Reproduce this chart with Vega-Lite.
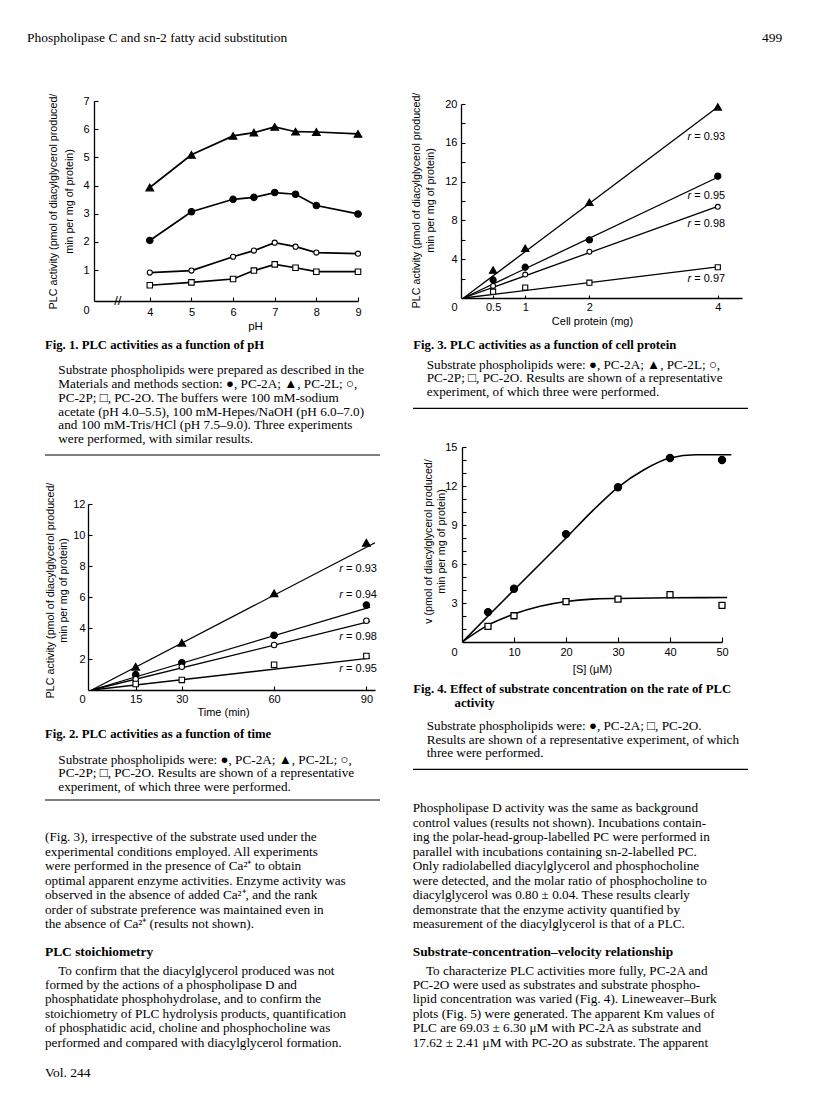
{
  "$schema": "https://vega.github.io/schema/vega-lite/v6.json",
  "width": 816,
  "height": 1096,
  "autosize": {"type": "none"},
  "padding": 0,
  "background": "white",
  "config": {
    "view": {"stroke": null},
    "axis": {"grid": false, "labelFont": "Liberation Sans", "titleFont": "Liberation Sans", "labelColor": "black", "titleColor": "black", "domainColor": "black", "tickColor": "black", "labelFontSize": 11, "titleFontSize": 10.7, "titleFontWeight": "normal", "domainWidth": 1.3, "tickWidth": 1.1, "labelOverlap": false, "labelFlush": false, "labelBound": false}
  },
  "datasets": {
    "pts": [
      {"fig": 1, "s": "PC-2L", "x": 4, "y": 3.93}, {"fig": 1, "s": "PC-2L", "x": 5, "y": 5.09}, {"fig": 1, "s": "PC-2L", "x": 6, "y": 5.76}, {"fig": 1, "s": "PC-2L", "x": 6.5, "y": 5.88}, {"fig": 1, "s": "PC-2L", "x": 7, "y": 6.08}, {"fig": 1, "s": "PC-2L", "x": 7.5, "y": 5.91}, {"fig": 1, "s": "PC-2L", "x": 8, "y": 5.9}, {"fig": 1, "s": "PC-2L", "x": 9, "y": 5.83},
      {"fig": 1, "s": "PC-2A", "x": 4, "y": 2.05}, {"fig": 1, "s": "PC-2A", "x": 5, "y": 3.07}, {"fig": 1, "s": "PC-2A", "x": 6, "y": 3.51}, {"fig": 1, "s": "PC-2A", "x": 6.5, "y": 3.58}, {"fig": 1, "s": "PC-2A", "x": 7, "y": 3.75}, {"fig": 1, "s": "PC-2A", "x": 7.5, "y": 3.69}, {"fig": 1, "s": "PC-2A", "x": 8, "y": 3.29}, {"fig": 1, "s": "PC-2A", "x": 9, "y": 2.99},
      {"fig": 1, "s": "PC-2P", "x": 4, "y": 0.91}, {"fig": 1, "s": "PC-2P", "x": 5, "y": 0.98}, {"fig": 1, "s": "PC-2P", "x": 6, "y": 1.47}, {"fig": 1, "s": "PC-2P", "x": 6.5, "y": 1.69}, {"fig": 1, "s": "PC-2P", "x": 7, "y": 1.97}, {"fig": 1, "s": "PC-2P", "x": 7.5, "y": 1.83}, {"fig": 1, "s": "PC-2P", "x": 8, "y": 1.62}, {"fig": 1, "s": "PC-2P", "x": 9, "y": 1.58},
      {"fig": 1, "s": "PC-2O", "x": 4, "y": 0.46}, {"fig": 1, "s": "PC-2O", "x": 5, "y": 0.56}, {"fig": 1, "s": "PC-2O", "x": 6, "y": 0.68}, {"fig": 1, "s": "PC-2O", "x": 6.5, "y": 0.98}, {"fig": 1, "s": "PC-2O", "x": 7, "y": 1.2}, {"fig": 1, "s": "PC-2O", "x": 7.5, "y": 1.08}, {"fig": 1, "s": "PC-2O", "x": 8, "y": 0.94}, {"fig": 1, "s": "PC-2O", "x": 9, "y": 0.94},
      {"fig": 2, "s": "PC-2L", "x": 15, "y": 1.5}, {"fig": 2, "s": "PC-2L", "x": 30, "y": 3.05}, {"fig": 2, "s": "PC-2L", "x": 60, "y": 6.24}, {"fig": 2, "s": "PC-2L", "x": 90, "y": 9.5},
      {"fig": 2, "s": "PC-2A", "x": 15, "y": 0.99}, {"fig": 2, "s": "PC-2A", "x": 30, "y": 1.76}, {"fig": 2, "s": "PC-2A", "x": 60, "y": 3.53}, {"fig": 2, "s": "PC-2A", "x": 90, "y": 5.48},
      {"fig": 2, "s": "PC-2P", "x": 15, "y": 0.69}, {"fig": 2, "s": "PC-2P", "x": 30, "y": 1.5}, {"fig": 2, "s": "PC-2P", "x": 60, "y": 2.9}, {"fig": 2, "s": "PC-2P", "x": 90, "y": 4.47},
      {"fig": 2, "s": "PC-2O", "x": 15, "y": 0.39}, {"fig": 2, "s": "PC-2O", "x": 30, "y": 0.65}, {"fig": 2, "s": "PC-2O", "x": 60, "y": 1.63}, {"fig": 2, "s": "PC-2O", "x": 90, "y": 2.19},
      {"fig": 3, "s": "PC-2L", "x": 0.5, "y": 2.89}, {"fig": 3, "s": "PC-2L", "x": 1, "y": 5.13}, {"fig": 3, "s": "PC-2L", "x": 2, "y": 9.87}, {"fig": 3, "s": "PC-2L", "x": 4, "y": 19.7},
      {"fig": 3, "s": "PC-2A", "x": 0.5, "y": 1.86}, {"fig": 3, "s": "PC-2A", "x": 1, "y": 3.17}, {"fig": 3, "s": "PC-2A", "x": 2, "y": 5.99}, {"fig": 3, "s": "PC-2A", "x": 4, "y": 12.56},
      {"fig": 3, "s": "PC-2P", "x": 0.5, "y": 1.24}, {"fig": 3, "s": "PC-2P", "x": 1, "y": 2.41}, {"fig": 3, "s": "PC-2P", "x": 2, "y": 4.78}, {"fig": 3, "s": "PC-2P", "x": 4, "y": 9.4},
      {"fig": 3, "s": "PC-2O", "x": 0.5, "y": 0.65}, {"fig": 3, "s": "PC-2O", "x": 1, "y": 1.07}, {"fig": 3, "s": "PC-2O", "x": 2, "y": 1.58}, {"fig": 3, "s": "PC-2O", "x": 4, "y": 3.17},
      {"fig": 4, "s": "PC-2A", "x": 5, "y": 2.3}, {"fig": 4, "s": "PC-2A", "x": 10, "y": 4.1}, {"fig": 4, "s": "PC-2A", "x": 20, "y": 8.3}, {"fig": 4, "s": "PC-2A", "x": 30, "y": 11.9}, {"fig": 4, "s": "PC-2A", "x": 40, "y": 14.15}, {"fig": 4, "s": "PC-2A", "x": 50, "y": 14.0},
      {"fig": 4, "s": "PC-2O", "x": 5, "y": 1.2}, {"fig": 4, "s": "PC-2O", "x": 10, "y": 2.02}, {"fig": 4, "s": "PC-2O", "x": 20, "y": 3.1}, {"fig": 4, "s": "PC-2O", "x": 30, "y": 3.3}, {"fig": 4, "s": "PC-2O", "x": 40, "y": 3.64}, {"fig": 4, "s": "PC-2O", "x": 50, "y": 2.82}
    ],
    "fit": [
      {"fig": 2, "s": "PC-2L", "x": 0.7, "y": 0}, {"fig": 2, "s": "PC-2L", "x": 92.8, "y": 9.5},
      {"fig": 2, "s": "PC-2A", "x": 0.7, "y": 0}, {"fig": 2, "s": "PC-2A", "x": 91.2, "y": 5.35},
      {"fig": 2, "s": "PC-2P", "x": 0.7, "y": 0}, {"fig": 2, "s": "PC-2P", "x": 91.2, "y": 4.42},
      {"fig": 2, "s": "PC-2O", "x": 0.7, "y": 0}, {"fig": 2, "s": "PC-2O", "x": 91.2, "y": 2.05},
      {"fig": 3, "s": "PC-2L", "x": 0.04, "y": 0}, {"fig": 3, "s": "PC-2L", "x": 4, "y": 19.7},
      {"fig": 3, "s": "PC-2A", "x": 0.04, "y": 0}, {"fig": 3, "s": "PC-2A", "x": 4, "y": 12.45},
      {"fig": 3, "s": "PC-2P", "x": 0.04, "y": 0}, {"fig": 3, "s": "PC-2P", "x": 4, "y": 9.45},
      {"fig": 3, "s": "PC-2O", "x": 0.04, "y": 0}, {"fig": 3, "s": "PC-2O", "x": 4, "y": 3.2},
      {"fig": 4, "s": "PC-2A", "x": 0.2, "y": 0.05}, {"fig": 4, "s": "PC-2A", "x": 5, "y": 2.0}, {"fig": 4, "s": "PC-2A", "x": 10, "y": 4.0}, {"fig": 4, "s": "PC-2A", "x": 15, "y": 6.0}, {"fig": 4, "s": "PC-2A", "x": 20, "y": 8.0}, {"fig": 4, "s": "PC-2A", "x": 25, "y": 10.05}, {"fig": 4, "s": "PC-2A", "x": 30, "y": 11.9}, {"fig": 4, "s": "PC-2A", "x": 35, "y": 13.25}, {"fig": 4, "s": "PC-2A", "x": 40, "y": 14.15}, {"fig": 4, "s": "PC-2A", "x": 45, "y": 14.4}, {"fig": 4, "s": "PC-2A", "x": 51.8, "y": 14.4},
      {"fig": 4, "s": "PC-2O", "x": 0.2, "y": 0.05}, {"fig": 4, "s": "PC-2O", "x": 5, "y": 1.3}, {"fig": 4, "s": "PC-2O", "x": 10, "y": 2.15}, {"fig": 4, "s": "PC-2O", "x": 15, "y": 2.75}, {"fig": 4, "s": "PC-2O", "x": 20, "y": 3.12}, {"fig": 4, "s": "PC-2O", "x": 25, "y": 3.3}, {"fig": 4, "s": "PC-2O", "x": 30, "y": 3.35}, {"fig": 4, "s": "PC-2O", "x": 40, "y": 3.4}, {"fig": 4, "s": "PC-2O", "x": 51, "y": 3.42}
    ],
    "rlab": [
      {"fig": 2, "x": 82.9, "y": 7.79, "r": "= 0.93"}, {"fig": 2, "x": 82.9, "y": 6.11, "r": "= 0.94"}, {"fig": 2, "x": 82.9, "y": 3.4, "r": "= 0.98"}, {"fig": 2, "x": 82.9, "y": 1.35, "r": "= 0.95"},
      {"fig": 3, "x": 3.61, "y": 16.63, "r": "= 0.93"}, {"fig": 3, "x": 3.61, "y": 10.5, "r": "= 0.95"}, {"fig": 3, "x": 3.61, "y": 7.6, "r": "= 0.98"}, {"fig": 3, "x": 3.61, "y": 1.96, "r": "= 0.97"}
    ],
    "brk": [
      {"fig": 1, "x": 3.23, "y": -0.1, "t": "//"}
    ],
    "txt": [
      {"b": "hdr", "line": 1, "col": 0, "text": "Phospholipase C and sn-2 fatty acid substitution"},
      {"b": "hdr", "line": 1, "col": 1, "text": "499"},
      {"b": "t13", "line": 1, "col": 0, "text": "Fig. 1. PLC activities as a function of pH"},
      {"b": "t13", "line": 1, "col": 1, "text": "Fig. 3. PLC activities as a function of cell protein"},
      {"b": "c1", "line": 1, "col": 0, "text": "Substrate phospholipids were prepared as described in the"},
      {"b": "c1", "line": 2, "col": 0, "text": "Materials and methods section: ●, PC-2A; ▲, PC-2L; ○,"},
      {"b": "c1", "line": 3, "col": 0, "text": "PC-2P; □, PC-2O. The buffers were 100 mM-sodium"},
      {"b": "c1", "line": 4, "col": 0, "text": "acetate (pH 4.0–5.5), 100 mM-Hepes/NaOH (pH 6.0–7.0)"},
      {"b": "c1", "line": 5, "col": 0, "text": "and 100 mM-Tris/HCl (pH 7.5–9.0). Three experiments"},
      {"b": "c1", "line": 6, "col": 0, "text": "were performed, with similar results."},
      {"b": "c3", "line": 1, "col": 0, "text": "Substrate phospholipids were: ●, PC-2A; ▲, PC-2L; ○,"},
      {"b": "c3", "line": 2, "col": 0, "text": "PC-2P; □, PC-2O. Results are shown of a representative"},
      {"b": "c3", "line": 3, "col": 0, "text": "experiment, of which three were performed."},
      {"b": "t2", "line": 1, "col": 0, "text": "Fig. 2. PLC activities as a function of time"},
      {"b": "c2", "line": 1, "col": 0, "text": "Substrate phospholipids were: ●, PC-2A; ▲, PC-2L; ○,"},
      {"b": "c2", "line": 2, "col": 0, "text": "PC-2P; □, PC-2O. Results are shown of a representative"},
      {"b": "c2", "line": 3, "col": 0, "text": "experiment, of which three were performed."},
      {"b": "t4", "line": 1, "col": 0, "text": "Fig. 4. Effect of substrate concentration on the rate of PLC"},
      {"b": "t4", "line": 2, "col": 0, "text": "\u200b\u00a0\u00a0\u00a0\u00a0\u00a0\u00a0\u00a0\u00a0\u00a0\u00a0\u00a0\u00a0\u00a0activity"},
      {"b": "c4", "line": 1, "col": 0, "text": "Substrate phospholipids were: ●, PC-2A; □, PC-2O."},
      {"b": "c4", "line": 2, "col": 0, "text": "Results are shown of a representative experiment, of which"},
      {"b": "c4", "line": 3, "col": 0, "text": "three were performed."},
      {"b": "b13", "line": 3, "col": 0, "text": "(Fig. 3), irrespective of the substrate used under the"},
      {"b": "b13", "line": 4, "col": 0, "text": "experimental conditions employed. All experiments"},
      {"b": "b13", "line": 5, "col": 0, "text": "were performed in the presence of Ca²⁺ to obtain"},
      {"b": "b13", "line": 6, "col": 0, "text": "optimal apparent enzyme activities. Enzyme activity was"},
      {"b": "b13", "line": 7, "col": 0, "text": "observed in the absence of added Ca²⁺, and the rank"},
      {"b": "b13", "line": 8, "col": 0, "text": "order of substrate preference was maintained even in"},
      {"b": "b13", "line": 9, "col": 0, "text": "the absence of Ca²⁺ (results not shown)."},
      {"b": "b13", "line": 1, "col": 1, "text": "Phospholipase D activity was the same as background"},
      {"b": "b13", "line": 2, "col": 1, "text": "control values (results not shown). Incubations contain-"},
      {"b": "b13", "line": 3, "col": 1, "text": "ing the polar-head-group-labelled PC were performed in"},
      {"b": "b13", "line": 4, "col": 1, "text": "parallel with incubations containing sn-2-labelled PC."},
      {"b": "b13", "line": 5, "col": 1, "text": "Only radiolabelled diacylglycerol and phosphocholine"},
      {"b": "b13", "line": 6, "col": 1, "text": "were detected, and the molar ratio of phosphocholine to"},
      {"b": "b13", "line": 7, "col": 1, "text": "diacylglycerol was 0.80 ± 0.04. These results clearly"},
      {"b": "b13", "line": 8, "col": 1, "text": "demonstrate that the enzyme activity quantified by"},
      {"b": "b13", "line": 9, "col": 1, "text": "measurement of the diacylglycerol is that of a PLC."},
      {"b": "h12", "line": 1, "col": 0, "text": "PLC stoichiometry"},
      {"b": "h12", "line": 1, "col": 1, "text": "Substrate-concentration–velocity relationship"},
      {"b": "b24", "line": 1, "col": 0, "text": "\u200b\u00a0\u00a0\u00a0\u00a0To confirm that the diacylglycerol produced was not"},
      {"b": "b24", "line": 2, "col": 0, "text": "formed by the actions of a phospholipase D and"},
      {"b": "b24", "line": 3, "col": 0, "text": "phosphatidate phosphohydrolase, and to confirm the"},
      {"b": "b24", "line": 4, "col": 0, "text": "stoichiometry of PLC hydrolysis products, quantification"},
      {"b": "b24", "line": 5, "col": 0, "text": "of phosphatidic acid, choline and phosphocholine was"},
      {"b": "b24", "line": 6, "col": 0, "text": "performed and compared with diacylglycerol formation."},
      {"b": "b24", "line": 1, "col": 1, "text": "\u200b\u00a0\u00a0\u00a0\u00a0To characterize PLC activities more fully, PC-2A and"},
      {"b": "b24", "line": 2, "col": 1, "text": "PC-2O were used as substrates and substrate phospho-"},
      {"b": "b24", "line": 3, "col": 1, "text": "lipid concentration was varied (Fig. 4). Lineweaver–Burk"},
      {"b": "b24", "line": 4, "col": 1, "text": "plots (Fig. 5) were generated. The apparent Km values of"},
      {"b": "b24", "line": 5, "col": 1, "text": "PLC are 69.03 ± 6.30 μM with PC-2A as substrate and"},
      {"b": "b24", "line": 6, "col": 1, "text": "17.62 ± 2.41 μM with PC-2O as substrate. The apparent"},
      {"b": "vol", "line": 1, "col": 0, "text": "Vol. 244"}
    ]
  },
  "resolve": {"scale": {"x": "independent", "y": "independent"}, "axis": {"x": "independent", "y": "independent"}},
  "layer": [
    {
      "encoding": {
        "x": {"field": "x", "type": "quantitative", "scale": {"domain": [2.66, 9], "range": [94, 358], "nice": false, "zero": false},
          "axis": {"orient": "bottom", "offset": -795, "values": [4, 5, 6, 7, 8, 9], "tickSize": -4, "labelPadding": 15.3, "labelBaseline": "middle", "title": "pH", "titleX": 255, "titleY": 25, "titleAlign": "center", "titleBaseline": "middle", "titleFontSize": 11.5}},
        "y": {"field": "y", "type": "quantitative", "scale": {"domain": [-0.1, 7], "range": [301, 101], "nice": false, "zero": false},
          "axis": {"orient": "left", "offset": -94, "values": [0, 1, 2, 3, 4, 5, 6, 7], "tickSize": -4, "tickOpacity": {"condition": {"test": "datum.value === 0", "value": 0}, "value": 1}, "labelOffset": {"condition": {"test": "datum.value === 0", "value": 12.5}, "value": 0}, "labelPadding": 9, "labelBaseline": "middle", "title": ["PLC activity (pmol of diacylglycerol produced/", "min per mg of protein)"], "titleX": -41, "titleY": 201, "titleAngle": 270, "titleAlign": "center", "titleBaseline": "middle", "titleLineHeight": 16}}
      },
      "layer": [
        {"data": {"name": "pts"}, "transform": [{"filter": "datum.fig === 1"}], "mark": {"type": "line", "color": "black", "strokeWidth": 1.7}, "encoding": {"detail": {"field": "s"}}},
        {"data": {"name": "pts"}, "transform": [{"filter": "datum.fig === 1"}], "mark": {"type": "point", "filled": true, "stroke": "black", "strokeWidth": 1.1, "opacity": 1},
          "encoding": {
            "shape": {"condition": [{"test": "datum.s === 'PC-2L'", "value": "triangle-up"}, {"test": "datum.s === 'PC-2O'", "value": "square"}], "value": "circle"},
            "fill": {"condition": {"test": "datum.s === 'PC-2A' || datum.s === 'PC-2L'", "value": "black"}, "value": "white"},
            "size": {"condition": [{"test": "datum.s === 'PC-2L'", "value": 60}, {"test": "datum.s === 'PC-2A'", "value": 42}, {"test": "datum.s === 'PC-2O'", "value": 30}], "value": 26}
          }},
        {"data": {"name": "brk"}, "mark": {"type": "text", "font": "Liberation Sans", "fontSize": 13, "align": "center", "baseline": "middle", "color": "black"}, "encoding": {"text": {"field": "t"}}}
      ]
    },
    {
      "encoding": {
        "x": {"field": "x", "type": "quantitative", "scale": {"domain": [-0.5, 92.8], "range": [88, 375], "nice": false, "zero": false},
          "axis": {"orient": "bottom", "offset": -406, "values": [15, 30, 60, 90], "tickSize": -4, "labelPadding": 13.3, "labelBaseline": "middle", "title": "Time (min)", "titleX": 223, "titleY": 22.7, "titleAlign": "center", "titleBaseline": "middle", "titleFontSize": 11}},
        "y": {"field": "y", "type": "quantitative", "scale": {"domain": [0, 12], "range": [690, 504], "nice": false, "zero": false},
          "axis": {"orient": "left", "offset": -88, "values": [0, 2, 4, 6, 8, 10, 12], "tickSize": -4, "tickOpacity": {"condition": {"test": "datum.value === 0", "value": 0}, "value": 1}, "labelOffset": {"condition": {"test": "datum.value === 0", "value": 9.3}, "value": 0}, "labelPadding": 7, "labelBaseline": "middle", "title": ["PLC activity (pmol of diacylglycerol produced/", "min per mg of protein)"], "titleX": -38, "titleY": 590, "titleAngle": 270, "titleAlign": "center", "titleBaseline": "middle", "titleLineHeight": 13}}
      },
      "layer": [
        {"data": {"name": "fit"}, "transform": [{"filter": "datum.fig === 2"}], "mark": {"type": "line", "color": "black", "strokeWidth": 1.3}, "encoding": {"detail": {"field": "s"}}},
        {"data": {"name": "pts"}, "transform": [{"filter": "datum.fig === 2"}], "mark": {"type": "point", "filled": true, "stroke": "black", "strokeWidth": 1.1, "opacity": 1},
          "encoding": {
            "shape": {"condition": [{"test": "datum.s === 'PC-2L'", "value": "triangle-up"}, {"test": "datum.s === 'PC-2O'", "value": "square"}], "value": "circle"},
            "fill": {"condition": {"test": "datum.s === 'PC-2A' || datum.s === 'PC-2L'", "value": "black"}, "value": "white"},
            "size": {"condition": [{"test": "datum.s === 'PC-2L'", "value": 60}, {"test": "datum.s === 'PC-2A'", "value": 42}, {"test": "datum.s === 'PC-2O'", "value": 30}], "value": 30}
          }},
        {"data": {"name": "rlab"}, "transform": [{"filter": "datum.fig === 2"}], "mark": {"type": "text", "text": "r", "fontStyle": "italic", "font": "Liberation Sans", "fontSize": 11, "align": "right", "dx": -1.5, "baseline": "middle", "color": "black"}},
        {"data": {"name": "rlab"}, "transform": [{"filter": "datum.fig === 2"}], "mark": {"type": "text", "font": "Liberation Sans", "fontSize": 11, "align": "left", "dx": 1.5, "baseline": "middle", "color": "black"}, "encoding": {"text": {"field": "r"}}}
      ]
    },
    {
      "encoding": {
        "x": {"field": "x", "type": "quantitative", "scale": {"domain": [0, 4.377], "range": [461, 742], "nice": false, "zero": false},
          "axis": {"orient": "bottom", "offset": -798, "values": [0.5, 1, 2, 4], "format": ".1~f", "tickSize": -3, "labelPadding": 12, "labelBaseline": "middle", "title": "Cell protein (mg)", "titleX": 592, "titleY": 23.7, "titleAlign": "center", "titleBaseline": "middle", "titleFontSize": 11}},
        "y": {"field": "y", "type": "quantitative", "scale": {"domain": [0, 20], "range": [298, 104], "nice": false, "zero": false},
          "axis": {"orient": "left", "offset": -461, "values": [0, 2, 4, 6, 8, 10, 12, 14, 16, 18, 20], "labelExpr": "datum.value % 4 === 0 ? datum.label : ''", "tickSize": -4, "tickOpacity": {"condition": {"test": "datum.value === 0", "value": 0}, "value": 1}, "labelOffset": {"condition": {"test": "datum.value === 0", "value": 9}, "value": 0}, "labelPadding": 8, "labelBaseline": "middle", "title": ["PLC activity (pmol of diacylglycerol produced/", "min per mg of protein)"], "titleX": -44.3, "titleY": 200, "titleAngle": 270, "titleAlign": "center", "titleBaseline": "middle", "titleLineHeight": 14}}
      },
      "layer": [
        {"data": {"name": "fit"}, "transform": [{"filter": "datum.fig === 3"}], "mark": {"type": "line", "color": "black", "strokeWidth": 1.3}, "encoding": {"detail": {"field": "s"}}},
        {"data": {"name": "pts"}, "transform": [{"filter": "datum.fig === 3"}], "mark": {"type": "point", "filled": true, "stroke": "black", "strokeWidth": 1.1, "opacity": 1},
          "encoding": {
            "shape": {"condition": [{"test": "datum.s === 'PC-2L'", "value": "triangle-up"}, {"test": "datum.s === 'PC-2O'", "value": "square"}], "value": "circle"},
            "fill": {"condition": {"test": "datum.s === 'PC-2A' || datum.s === 'PC-2L'", "value": "black"}, "value": "white"},
            "size": {"condition": [{"test": "datum.s === 'PC-2L'", "value": 55}, {"test": "datum.s === 'PC-2A'", "value": 38}, {"test": "datum.s === 'PC-2O'", "value": 26}], "value": 24}
          }},
        {"data": {"name": "rlab"}, "transform": [{"filter": "datum.fig === 3"}], "mark": {"type": "text", "text": "r", "fontStyle": "italic", "font": "Liberation Sans", "fontSize": 11, "align": "right", "dx": -1.5, "baseline": "middle", "color": "black"}},
        {"data": {"name": "rlab"}, "transform": [{"filter": "datum.fig === 3"}], "mark": {"type": "text", "font": "Liberation Sans", "fontSize": 11, "align": "left", "dx": 1.5, "baseline": "middle", "color": "black"}, "encoding": {"text": {"field": "r"}}}
      ]
    },
    {
      "encoding": {
        "x": {"field": "x", "type": "quantitative", "scale": {"domain": [0, 50], "range": [462, 722], "nice": false, "zero": false},
          "axis": {"orient": "bottom", "offset": -454, "values": [10, 20, 30, 40, 50], "tickSize": -5, "labelPadding": 15, "labelBaseline": "middle", "title": "[S] (μM)", "titleX": 592, "titleY": 27, "titleAlign": "center", "titleBaseline": "middle", "titleFontSize": 11}},
        "y": {"field": "y", "type": "quantitative", "scale": {"domain": [0, 15], "range": [642, 447], "nice": false, "zero": false},
          "axis": {"orient": "left", "offset": -462, "values": [0, 1, 2, 3, 4, 5, 6, 7, 8, 9, 10, 11, 12, 13, 14, 15], "labelExpr": "datum.value % 3 === 0 ? datum.label : ''", "tickSize": -4, "tickOpacity": {"condition": {"test": "datum.value === 0", "value": 0}, "value": 1}, "labelOffset": {"condition": {"test": "datum.value === 0", "value": 10}, "value": 0}, "labelPadding": 9, "labelBaseline": "middle", "title": ["v (pmol of diacylglycerol produced/", "min per mg of protein)"], "titleX": -33.5, "titleY": 541, "titleAngle": 270, "titleAlign": "center", "titleBaseline": "middle", "titleLineHeight": 13}}
      },
      "layer": [
        {"data": {"name": "fit"}, "transform": [{"filter": "datum.fig === 4"}], "mark": {"type": "line", "color": "black", "strokeWidth": 1.6, "interpolate": "monotone"}, "encoding": {"detail": {"field": "s"}}},
        {"data": {"name": "pts"}, "transform": [{"filter": "datum.fig === 4"}], "mark": {"type": "point", "filled": true, "stroke": "black", "strokeWidth": 1.3, "opacity": 1},
          "encoding": {
            "shape": {"condition": [{"test": "datum.s === 'PC-2O'", "value": "square"}], "value": "circle"},
            "fill": {"condition": {"test": "datum.s === 'PC-2A'", "value": "black"}, "value": "white"},
            "size": {"condition": [{"test": "datum.s === 'PC-2A'", "value": 50}], "value": 36}
          }}
      ]
    },
    {"data": {"name": "txt"}, "transform": [{"filter": "datum.b === 'hdr'"}], "mark": {"type": "text", "align": "left", "baseline": "middle", "font": "Liberation Serif", "fontSize": 13.5, "color": "black"},
      "encoding": {"x": {"field": "col", "type": "quantitative", "scale": {"domain": [0, 1], "range": [27, 762], "nice": false, "zero": false}, "axis": null}, "y": {"field": "line", "type": "quantitative", "scale": {"domain": [1, 2], "range": [38, 52], "nice": false, "zero": false}, "axis": null}, "text": {"field": "text"}}},
    {"data": {"name": "txt"}, "transform": [{"filter": "datum.b === 't13'"}], "mark": {"type": "text", "align": "left", "baseline": "middle", "font": "Liberation Serif", "fontSize": 12.7, "fontWeight": "bold", "color": "black"},
      "encoding": {"x": {"field": "col", "type": "quantitative", "scale": {"domain": [0, 1], "range": [45, 413.3], "nice": false, "zero": false}, "axis": null}, "y": {"field": "line", "type": "quantitative", "scale": {"domain": [1, 2], "range": [345, 359], "nice": false, "zero": false}, "axis": null}, "text": {"field": "text"}}},
    {"data": {"name": "txt"}, "transform": [{"filter": "datum.b === 'c1'"}], "mark": {"type": "text", "align": "left", "baseline": "middle", "font": "Liberation Serif", "fontSize": 13.2, "color": "black"},
      "encoding": {"x": {"field": "col", "type": "quantitative", "scale": {"domain": [0, 1], "range": [58.3, 400], "nice": false, "zero": false}, "axis": null}, "y": {"field": "line", "type": "quantitative", "scale": {"domain": [1, 6], "range": [370, 439.3], "nice": false, "zero": false}, "axis": null}, "text": {"field": "text"}}},
    {"data": {"name": "txt"}, "transform": [{"filter": "datum.b === 'c3'"}], "mark": {"type": "text", "align": "left", "baseline": "middle", "font": "Liberation Serif", "fontSize": 13.2, "color": "black"},
      "encoding": {"x": {"field": "col", "type": "quantitative", "scale": {"domain": [0, 1], "range": [426.7, 800], "nice": false, "zero": false}, "axis": null}, "y": {"field": "line", "type": "quantitative", "scale": {"domain": [1, 3], "range": [365, 391.7], "nice": false, "zero": false}, "axis": null}, "text": {"field": "text"}}},
    {"data": {"name": "txt"}, "transform": [{"filter": "datum.b === 't2'"}], "mark": {"type": "text", "align": "left", "baseline": "middle", "font": "Liberation Serif", "fontSize": 12.7, "fontWeight": "bold", "color": "black"},
      "encoding": {"x": {"field": "col", "type": "quantitative", "scale": {"domain": [0, 1], "range": [45, 400], "nice": false, "zero": false}, "axis": null}, "y": {"field": "line", "type": "quantitative", "scale": {"domain": [1, 2], "range": [734, 748], "nice": false, "zero": false}, "axis": null}, "text": {"field": "text"}}},
    {"data": {"name": "txt"}, "transform": [{"filter": "datum.b === 'c2'"}], "mark": {"type": "text", "align": "left", "baseline": "middle", "font": "Liberation Serif", "fontSize": 13.2, "color": "black"},
      "encoding": {"x": {"field": "col", "type": "quantitative", "scale": {"domain": [0, 1], "range": [58.3, 400], "nice": false, "zero": false}, "axis": null}, "y": {"field": "line", "type": "quantitative", "scale": {"domain": [1, 3], "range": [760, 786.7], "nice": false, "zero": false}, "axis": null}, "text": {"field": "text"}}},
    {"data": {"name": "txt"}, "transform": [{"filter": "datum.b === 't4'"}], "mark": {"type": "text", "align": "left", "baseline": "middle", "font": "Liberation Serif", "fontSize": 12.7, "fontWeight": "bold", "color": "black"},
      "encoding": {"x": {"field": "col", "type": "quantitative", "scale": {"domain": [0, 1], "range": [413.3, 800], "nice": false, "zero": false}, "axis": null}, "y": {"field": "line", "type": "quantitative", "scale": {"domain": [1, 2], "range": [689.3, 703.3], "nice": false, "zero": false}, "axis": null}, "text": {"field": "text"}}},
    {"data": {"name": "txt"}, "transform": [{"filter": "datum.b === 'c4'"}], "mark": {"type": "text", "align": "left", "baseline": "middle", "font": "Liberation Serif", "fontSize": 13.2, "color": "black"},
      "encoding": {"x": {"field": "col", "type": "quantitative", "scale": {"domain": [0, 1], "range": [426.7, 800], "nice": false, "zero": false}, "axis": null}, "y": {"field": "line", "type": "quantitative", "scale": {"domain": [1, 3], "range": [726, 753.3], "nice": false, "zero": false}, "axis": null}, "text": {"field": "text"}}},
    {"data": {"name": "txt"}, "transform": [{"filter": "datum.b === 'b13'"}], "mark": {"type": "text", "align": "left", "baseline": "middle", "font": "Liberation Serif", "fontSize": 13.2, "color": "black"},
      "encoding": {"x": {"field": "col", "type": "quantitative", "scale": {"domain": [0, 1], "range": [45, 412.7], "nice": false, "zero": false}, "axis": null}, "y": {"field": "line", "type": "quantitative", "scale": {"domain": [1, 9], "range": [808, 924], "nice": false, "zero": false}, "axis": null}, "text": {"field": "text"}}},
    {"data": {"name": "txt"}, "transform": [{"filter": "datum.b === 'h12'"}], "mark": {"type": "text", "align": "left", "baseline": "middle", "font": "Liberation Serif", "fontSize": 13.4, "fontWeight": "bold", "color": "black"},
      "encoding": {"x": {"field": "col", "type": "quantitative", "scale": {"domain": [0, 1], "range": [45, 412.7], "nice": false, "zero": false}, "axis": null}, "y": {"field": "line", "type": "quantitative", "scale": {"domain": [1, 2], "range": [951.7, 965.7], "nice": false, "zero": false}, "axis": null}, "text": {"field": "text"}}},
    {"data": {"name": "txt"}, "transform": [{"filter": "datum.b === 'b24'"}], "mark": {"type": "text", "align": "left", "baseline": "middle", "font": "Liberation Serif", "fontSize": 13.2, "color": "black"},
      "encoding": {"x": {"field": "col", "type": "quantitative", "scale": {"domain": [0, 1], "range": [45, 412.7], "nice": false, "zero": false}, "axis": null}, "y": {"field": "line", "type": "quantitative", "scale": {"domain": [1, 6], "range": [970.5, 1042.7], "nice": false, "zero": false}, "axis": null}, "text": {"field": "text"}}},
    {"data": {"name": "txt"}, "transform": [{"filter": "datum.b === 'vol'"}], "mark": {"type": "text", "align": "left", "baseline": "middle", "font": "Liberation Serif", "fontSize": 13.5, "color": "black"},
      "encoding": {"x": {"field": "col", "type": "quantitative", "scale": {"domain": [0, 1], "range": [45, 400], "nice": false, "zero": false}, "axis": null}, "y": {"field": "line", "type": "quantitative", "scale": {"domain": [1, 2], "range": [1073, 1087], "nice": false, "zero": false}, "axis": null}, "text": {"field": "text"}}},
    {"data": {"values": [{"rule": "end of Fig. 1 legend"}]}, "mark": {"type": "rule", "color": "black", "strokeWidth": 1.2},
      "encoding": {"x": {"datum": 0, "type": "quantitative", "scale": {"domain": [0, 1], "range": [45, 380], "nice": false, "zero": false}, "axis": null}, "x2": {"datum": 1}, "y": {"datum": 0, "type": "quantitative", "scale": {"domain": [0, 1], "range": [455, 456], "nice": false, "zero": false}, "axis": null}}},
    {"data": {"values": [{"rule": "end of Fig. 2 legend"}]}, "mark": {"type": "rule", "color": "black", "strokeWidth": 1.2},
      "encoding": {"x": {"datum": 0, "type": "quantitative", "scale": {"domain": [0, 1], "range": [45, 380], "nice": false, "zero": false}, "axis": null}, "x2": {"datum": 1}, "y": {"datum": 0, "type": "quantitative", "scale": {"domain": [0, 1], "range": [800, 801], "nice": false, "zero": false}, "axis": null}}},
    {"data": {"values": [{"rule": "end of Fig. 3 legend"}]}, "mark": {"type": "rule", "color": "black", "strokeWidth": 1.2},
      "encoding": {"x": {"datum": 0, "type": "quantitative", "scale": {"domain": [0, 1], "range": [413, 748], "nice": false, "zero": false}, "axis": null}, "x2": {"datum": 1}, "y": {"datum": 0, "type": "quantitative", "scale": {"domain": [0, 1], "range": [408.3, 409.3], "nice": false, "zero": false}, "axis": null}}},
    {"data": {"values": [{"rule": "end of Fig. 4 legend"}]}, "mark": {"type": "rule", "color": "black", "strokeWidth": 1.2},
      "encoding": {"x": {"datum": 0, "type": "quantitative", "scale": {"domain": [0, 1], "range": [413, 748], "nice": false, "zero": false}, "axis": null}, "x2": {"datum": 1}, "y": {"datum": 0, "type": "quantitative", "scale": {"domain": [0, 1], "range": [769.3, 770.3], "nice": false, "zero": false}, "axis": null}}}
  ]
}
